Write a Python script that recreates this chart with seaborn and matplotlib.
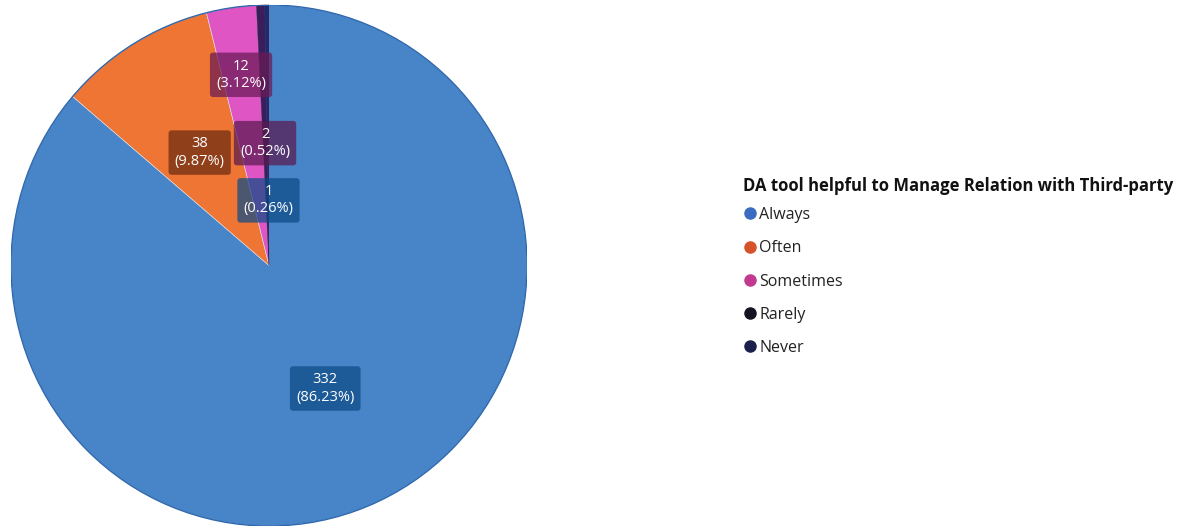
import matplotlib
matplotlib.use("Agg")
import matplotlib.pyplot as plt
from matplotlib.lines import Line2D
import numpy as np
import seaborn as sns

# Survey responses
categories = ["Always", "Often", "Sometimes", "Rarely", "Never"]
counts = [332, 38, 12, 2, 1]
percent_labels = ["86.23%", "9.87%", "3.12%", "0.52%", "0.26%"]
legend_title = "DA tool helpful to Manage Relation with Third-party"

sns.set_theme(style="white")
plt.rcParams["font.family"] = ["Open Sans", "DejaVu Sans"]

wedge_colors = ["#4884c8", "#ef7534", "#e055c4", "#3b1d5c", "#202a6c"]
dot_colors = ["#3c6cc0", "#d6522a", "#c13a90", "#171222", "#1b1f4c"]
box_colors = ["#0d4a86", "#6a2a10", "#6a1a55", "#5a1a50", "#0d4a86"]
# radial position of each value label (fraction of the radius)
label_r = [0.52, 0.51, 0.74, 0.47, 0.25]

fig = plt.figure(figsize=(11.84, 5.29), dpi=100)
ax = fig.add_axes([11 / 1184, 3 / 529, 516 / 1184, 521 / 529])

wedges, _ = ax.pie(
    counts,
    colors=wedge_colors,
    startangle=90,
    counterclock=False,
    wedgeprops=dict(edgecolor="#dfe6ee", linewidth=0.4),
)
for w in wedges[3:]:
    w.set_edgecolor(w.get_facecolor())
# thin darker rim around the whole pie
rim = plt.Circle((0, 0), 1.0, fill=False, edgecolor="#2f68ad", linewidth=1.0)
ax.add_patch(rim)
ax.set_xlim(-1.0, 1.0)
ax.set_ylim(-1.0, 1.0)
ax.set_aspect("auto")
ax.axis("off")

for w, n, p, r, bc in zip(wedges, counts, percent_labels, label_r, box_colors):
    mid = np.deg2rad((w.theta1 + w.theta2) / 2)
    x, y = r * np.cos(mid), r * np.sin(mid)
    ax.text(
        x, y, f"{n}\n({p})",
        ha="center", va="center", color="white", fontsize=10.5,
        linespacing=1.2,
        bbox=dict(boxstyle="round,pad=0.42,rounding_size=0.2",
                  facecolor=bc, edgecolor="none", alpha=0.72),
    )

# legend title
fig.text(743 / 1184, 1 - 186 / 529, legend_title, ha="left", va="center",
         fontsize=12, fontweight="bold", color="#111111")

handles = [
    Line2D([0], [0], marker="o", linestyle="", markersize=8,
           markerfacecolor=c, markeredgecolor=c)
    for c in dot_colors
]
leg = fig.legend(
    handles, categories,
    loc="upper left",
    bbox_to_anchor=(740 / 1184, 1 - 207 / 529),
    frameon=False,
    fontsize=11.5,
    handletextpad=0.0,
    handlelength=1.2,
    labelspacing=1.08,
    borderaxespad=0,
    borderpad=0,
)
for t in leg.get_texts():
    t.set_color("#222222")

fig.savefig("out.png", dpi=100, facecolor="white")
